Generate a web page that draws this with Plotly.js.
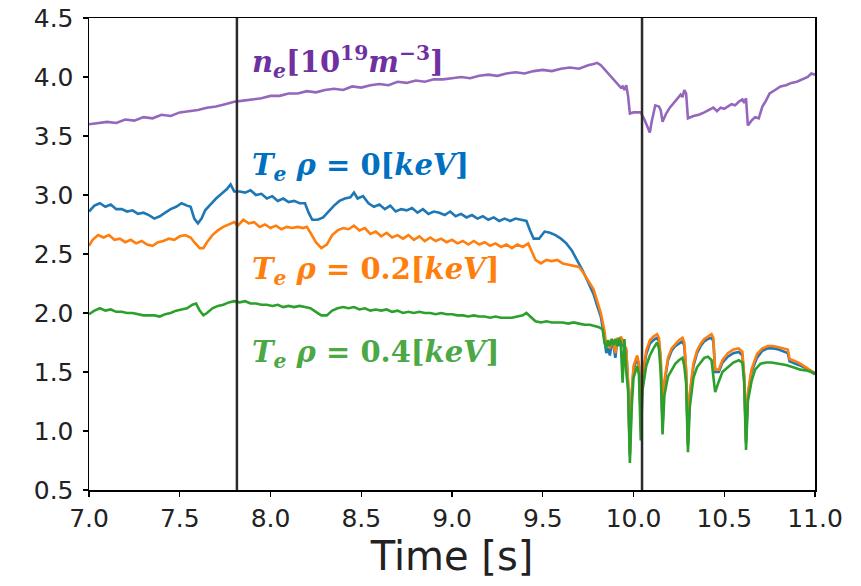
<!DOCTYPE html>
<html>
<head>
<meta charset="utf-8">
<script src="https://cdn.plot.ly/plotly-3.0.1.min.js"></script>
<style>html,body{margin:0;padding:0;background:#fff;}#chart{width:861px;height:586px;}</style>
</head>
<body>
<div id="chart"></div>
<script>
// ---- Data ----
const tTe = [7.00,7.03,7.06,7.09,7.12,7.15,7.18,7.21,7.24,7.27,7.30,7.33,7.36,7.39,7.42,7.45,7.48,7.51,7.54,7.56,7.58,7.60,7.62,7.64,7.67,7.70,7.73,7.76,7.78,7.80,7.83,7.86,7.89,7.92,7.95,7.98,8.01,8.04,8.07,8.10,8.13,8.16,8.19,8.21,8.23,8.26,8.29,8.32,8.35,8.38,8.41,8.44,8.46,8.48,8.51,8.54,8.57,8.60,8.63,8.66,8.69,8.72,8.75,8.78,8.81,8.84,8.87,8.90,8.93,8.96,8.99,9.02,9.05,9.08,9.11,9.14,9.17,9.20,9.23,9.26,9.29,9.32,9.35,9.38,9.41,9.43,9.45,9.48,9.51,9.54,9.57,9.60,9.63,9.66,9.69,9.72,9.75,9.78,9.80,9.82,9.84,9.85,9.86,9.87,9.88,9.89,9.90,9.91,9.92,9.93,9.94,9.95,9.96,9.97,9.98,9.99,10.00,10.02,10.03,10.04,10.05,10.07,10.09,10.11,10.13,10.14,10.15,10.16,10.17,10.19,10.21,10.23,10.25,10.27,10.28,10.29,10.30,10.31,10.33,10.35,10.37,10.39,10.41,10.43,10.44,10.45,10.47,10.49,10.52,10.55,10.58,10.60,10.61,10.62,10.63,10.65,10.68,10.71,10.74,10.77,10.80,10.83,10.85,10.86,10.88,10.91,10.94,10.97,11.00];
const te0 = [2.86,2.91,2.93,2.90,2.92,2.88,2.88,2.86,2.87,2.84,2.85,2.83,2.80,2.82,2.85,2.88,2.90,2.93,2.91,2.90,2.80,2.76,2.80,2.87,2.92,2.97,3.01,3.05,3.09,3.03,3.03,3.02,3.04,3.00,3.01,2.97,2.99,2.95,2.97,2.94,2.95,2.93,2.93,2.85,2.79,2.79,2.81,2.86,2.91,2.95,2.97,2.98,3.02,2.97,2.99,2.93,2.90,2.92,2.88,2.91,2.86,2.88,2.87,2.89,2.85,2.88,2.84,2.86,2.85,2.83,2.86,2.82,2.84,2.81,2.83,2.80,2.82,2.79,2.81,2.78,2.80,2.78,2.80,2.79,2.78,2.70,2.63,2.63,2.69,2.68,2.66,2.63,2.59,2.53,2.45,2.36,2.26,2.16,2.06,1.97,1.78,1.66,1.70,1.64,1.75,1.72,1.62,1.76,1.72,1.78,1.74,1.70,1.68,1.40,0.80,1.30,1.52,1.62,1.55,1.10,1.45,1.65,1.74,1.77,1.79,1.76,1.60,1.05,1.40,1.60,1.68,1.72,1.74,1.76,1.72,1.50,0.88,1.30,1.55,1.66,1.72,1.76,1.78,1.79,1.76,1.50,1.50,1.58,1.63,1.66,1.67,1.64,1.45,0.90,1.30,1.50,1.62,1.68,1.70,1.70,1.69,1.67,1.66,1.59,1.58,1.56,1.54,1.51,1.48];

const tTe2 = [7.00,7.02,7.05,7.08,7.11,7.14,7.17,7.20,7.23,7.26,7.29,7.32,7.35,7.38,7.41,7.44,7.47,7.50,7.53,7.56,7.58,7.61,7.63,7.65,7.68,7.71,7.74,7.77,7.80,7.82,7.85,7.88,7.91,7.94,7.97,8.00,8.03,8.06,8.09,8.12,8.15,8.18,8.20,8.22,8.25,8.28,8.31,8.34,8.37,8.40,8.43,8.46,8.49,8.52,8.55,8.58,8.61,8.64,8.67,8.70,8.73,8.76,8.79,8.82,8.85,8.88,8.91,8.94,8.97,9.00,9.03,9.06,9.09,9.12,9.15,9.18,9.21,9.24,9.27,9.30,9.33,9.36,9.39,9.42,9.44,9.46,9.49,9.52,9.55,9.58,9.61,9.64,9.67,9.70,9.72,9.75,9.78,9.80,9.82,9.84,9.85,9.86,9.87,9.88,9.89,9.90,9.91,9.92,9.93,9.94,9.95,9.96,9.97,9.98,9.99,10.00,10.02,10.03,10.04,10.05,10.07,10.09,10.11,10.13,10.14,10.15,10.16,10.17,10.19,10.21,10.23,10.25,10.27,10.28,10.29,10.30,10.31,10.33,10.35,10.37,10.39,10.41,10.43,10.44,10.45,10.47,10.49,10.52,10.55,10.58,10.60,10.61,10.62,10.63,10.65,10.68,10.71,10.74,10.77,10.80,10.83,10.85,10.86,10.88,10.91,10.94,10.97,11.00];
const te02 = [2.57,2.62,2.66,2.64,2.66,2.62,2.63,2.60,2.62,2.59,2.61,2.58,2.57,2.60,2.61,2.63,2.62,2.65,2.66,2.64,2.60,2.55,2.55,2.60,2.66,2.70,2.73,2.75,2.77,2.74,2.79,2.76,2.77,2.73,2.75,2.72,2.74,2.71,2.73,2.72,2.73,2.72,2.73,2.68,2.60,2.55,2.58,2.66,2.70,2.72,2.71,2.74,2.70,2.72,2.67,2.69,2.65,2.68,2.64,2.66,2.63,2.66,2.62,2.65,2.61,2.64,2.61,2.63,2.60,2.62,2.59,2.61,2.58,2.61,2.58,2.60,2.57,2.59,2.56,2.58,2.55,2.58,2.56,2.59,2.52,2.45,2.42,2.45,2.44,2.45,2.42,2.41,2.40,2.39,2.35,2.28,2.20,2.10,2.00,1.85,1.72,1.75,1.70,1.78,1.74,1.66,1.79,1.75,1.80,1.77,1.72,1.70,1.42,0.82,1.32,1.55,1.64,1.57,1.12,1.47,1.68,1.77,1.80,1.82,1.79,1.62,1.07,1.42,1.62,1.70,1.74,1.77,1.79,1.75,1.52,0.90,1.32,1.57,1.68,1.74,1.78,1.80,1.82,1.79,1.52,1.52,1.60,1.66,1.69,1.70,1.67,1.47,0.92,1.32,1.52,1.65,1.70,1.72,1.72,1.71,1.70,1.69,1.61,1.60,1.58,1.55,1.52,1.49];

const tTe4 = [7.00,7.03,7.06,7.09,7.12,7.15,7.18,7.21,7.24,7.27,7.30,7.33,7.36,7.39,7.42,7.45,7.48,7.51,7.54,7.57,7.59,7.61,7.63,7.65,7.68,7.71,7.74,7.77,7.80,7.83,7.86,7.89,7.92,7.95,7.98,8.01,8.04,8.07,8.10,8.13,8.16,8.19,8.22,8.25,8.28,8.31,8.34,8.37,8.40,8.43,8.46,8.49,8.52,8.55,8.58,8.61,8.64,8.67,8.70,8.73,8.76,8.79,8.82,8.85,8.88,8.91,8.94,8.97,9.00,9.03,9.06,9.09,9.12,9.15,9.18,9.21,9.24,9.27,9.30,9.33,9.36,9.39,9.41,9.43,9.46,9.49,9.52,9.55,9.58,9.61,9.64,9.67,9.70,9.73,9.76,9.79,9.81,9.83,9.84,9.85,9.86,9.87,9.88,9.89,9.90,9.91,9.92,9.93,9.94,9.95,9.96,9.97,9.98,9.99,10.00,10.02,10.03,10.04,10.05,10.07,10.09,10.11,10.13,10.14,10.15,10.16,10.17,10.19,10.21,10.23,10.25,10.27,10.28,10.29,10.30,10.31,10.33,10.35,10.37,10.39,10.41,10.43,10.44,10.45,10.47,10.49,10.52,10.55,10.58,10.60,10.61,10.62,10.63,10.65,10.67,10.70,10.73,10.76,10.80,10.84,10.88,10.92,10.96,11.00];
const te04 = [1.99,2.02,2.04,2.02,2.03,2.01,2.01,2.00,2.00,1.99,1.98,1.98,1.98,1.97,1.99,2.00,2.02,2.03,2.04,2.07,2.08,2.02,1.98,2.00,2.04,2.06,2.07,2.09,2.10,2.09,2.10,2.08,2.08,2.07,2.07,2.06,2.07,2.05,2.06,2.05,2.06,2.05,2.04,2.01,1.98,1.98,2.02,2.04,2.05,2.04,2.05,2.03,2.04,2.02,2.03,2.02,2.03,2.01,2.02,2.00,2.01,2.00,2.01,2.00,2.00,1.99,2.00,1.99,1.99,1.98,1.98,1.97,1.98,1.97,1.97,1.96,1.97,1.96,1.96,1.96,1.97,1.98,2.00,1.97,1.93,1.92,1.93,1.92,1.92,1.92,1.91,1.92,1.91,1.90,1.90,1.89,1.88,1.86,1.75,1.70,1.77,1.72,1.78,1.73,1.78,1.72,1.79,1.74,1.41,1.78,1.50,1.35,0.73,1.20,1.45,1.55,1.48,0.92,1.35,1.55,1.64,1.70,1.75,1.70,1.50,0.97,1.30,1.46,1.52,1.57,1.60,1.62,1.55,1.40,0.82,1.20,1.45,1.54,1.58,1.62,1.63,1.60,1.46,1.33,1.42,1.50,1.54,1.58,1.60,1.58,1.40,0.84,1.25,1.42,1.52,1.57,1.58,1.58,1.57,1.56,1.54,1.52,1.51,1.49];

const tNe = [7.00,7.05,7.10,7.15,7.20,7.25,7.30,7.35,7.40,7.45,7.50,7.55,7.60,7.65,7.70,7.75,7.80,7.85,7.90,7.95,8.00,8.05,8.10,8.15,8.20,8.25,8.30,8.35,8.40,8.45,8.50,8.55,8.60,8.65,8.70,8.75,8.80,8.85,8.90,8.95,9.00,9.05,9.10,9.15,9.20,9.25,9.30,9.35,9.40,9.45,9.50,9.55,9.60,9.65,9.70,9.75,9.78,9.80,9.82,9.85,9.88,9.91,9.93,9.94,9.95,9.96,9.97,9.98,10.00,10.02,10.04,10.06,10.08,10.09,10.10,10.12,10.14,10.15,10.16,10.18,10.20,10.22,10.24,10.26,10.27,10.28,10.29,10.30,10.33,10.36,10.39,10.42,10.44,10.46,10.48,10.50,10.52,10.54,10.56,10.58,10.60,10.61,10.62,10.63,10.65,10.67,10.69,10.71,10.73,10.75,10.78,10.81,10.84,10.87,10.90,10.93,10.96,10.98,11.00];
const ne = [3.60,3.61,3.62,3.61,3.64,3.63,3.66,3.65,3.68,3.67,3.70,3.71,3.72,3.74,3.75,3.77,3.79,3.80,3.81,3.82,3.84,3.84,3.86,3.86,3.88,3.87,3.89,3.90,3.89,3.92,3.91,3.93,3.94,3.93,3.96,3.95,3.97,3.96,3.98,3.98,3.99,4.00,3.99,4.01,4.02,4.01,4.03,4.04,4.03,4.05,4.06,4.05,4.07,4.08,4.07,4.10,4.11,4.12,4.10,4.05,4.00,3.95,3.91,3.92,3.89,3.93,3.84,3.69,3.70,3.70,3.70,3.64,3.56,3.53,3.62,3.76,3.75,3.72,3.62,3.69,3.74,3.78,3.82,3.85,3.83,3.89,3.86,3.65,3.67,3.68,3.70,3.72,3.74,3.71,3.74,3.73,3.75,3.77,3.76,3.79,3.81,3.78,3.82,3.59,3.63,3.66,3.65,3.75,3.80,3.86,3.89,3.92,3.93,3.95,3.96,3.98,4.00,4.03,4.02];

const markTimes = [7.815, 10.047];
const labelTexts = [
  '<b><i>n</i><sub><i>e</i></sub>[10<sup>19</sup><i>m</i><sup>−3</sup>]</b>',
  '<b><i>T</i><sub><i>e</i></sub> <i>ρ</i> = 0[<i>keV</i>]</b>',
  '<b><i>T</i><sub><i>e</i></sub> <i>ρ</i> = 0.2[<i>keV</i>]</b>',
  '<b><i>T</i><sub><i>e</i></sub> <i>ρ</i> = 0.4[<i>keV</i>]</b>'
];
const labelX = [7.885, 7.885, 7.885, 7.885];
const labelY = [4.13, 3.24, 2.36, 1.65];
const labelColors = ['#7030a0', '#0070c0', '#ff7f0e', '#4ca844'];

const traces = [
  {x: tNe, y: ne, mode: 'lines', line: {color: '#9467bd', width: 2.6}},
  {x: tTe, y: te0, mode: 'lines', line: {color: '#1f77b4', width: 2.6}},
  {x: tTe2, y: te02, mode: 'lines', line: {color: '#ff7f0e', width: 2.6}},
  {x: tTe4, y: te04, mode: 'lines', line: {color: '#2ca02c', width: 2.6}}
];

const axisCommon = {
  showline: true, mirror: true, linecolor: '#000', linewidth: 1.5,
  ticks: 'outside', ticklen: 5, tickwidth: 1.2, tickcolor: '#000',
  showgrid: false, zeroline: false,
  tickfont: {family: 'DejaVu Sans', size: 25, color: '#222'}
};

const layout = {
  width: 861, height: 586,
  margin: {l: 89, r: 46, t: 18, b: 96},
  paper_bgcolor: '#fff', plot_bgcolor: '#fff',
  showlegend: false,
  xaxis: Object.assign({}, axisCommon, {
    range: [7, 11], tickvals: [7,7.5,8,8.5,9,9.5,10,10.5,11],
    ticktext: ['7.0','7.5','8.0','8.5','9.0','9.5','10.0','10.5','11.0'],
    title: {text: 'Time [s]', font: {family: 'DejaVu Sans', size: 40, color: '#222'}, standoff: 6}
  }),
  yaxis: Object.assign({}, axisCommon, {
    range: [0.5, 4.5], tickvals: [0.5,1,1.5,2,2.5,3,3.5,4,4.5],
    ticktext: ['0.5','1.0','1.5','2.0','2.5','3.0','3.5','4.0','4.5'],
    ticklabelstandoff: 4
  }),
  shapes: markTimes.map(t => ({type: 'line', xref: 'x', yref: 'paper', x0: t, x1: t, y0: 0, y1: 1,
    line: {color: '#2b2b2b', width: 2.5}})),
  annotations: labelTexts.map((txt, i) => ({
    x: labelX[i], y: labelY[i], xref: 'x', yref: 'y', xanchor: 'left', yanchor: 'middle',
    text: txt, showarrow: false,
    font: {family: 'DejaVu Serif', size: 29, color: labelColors[i]}
  }))
};

Plotly.newPlot('chart', traces, layout, {displayModeBar: false, staticPlot: true});
</script>
</body>
</html>
